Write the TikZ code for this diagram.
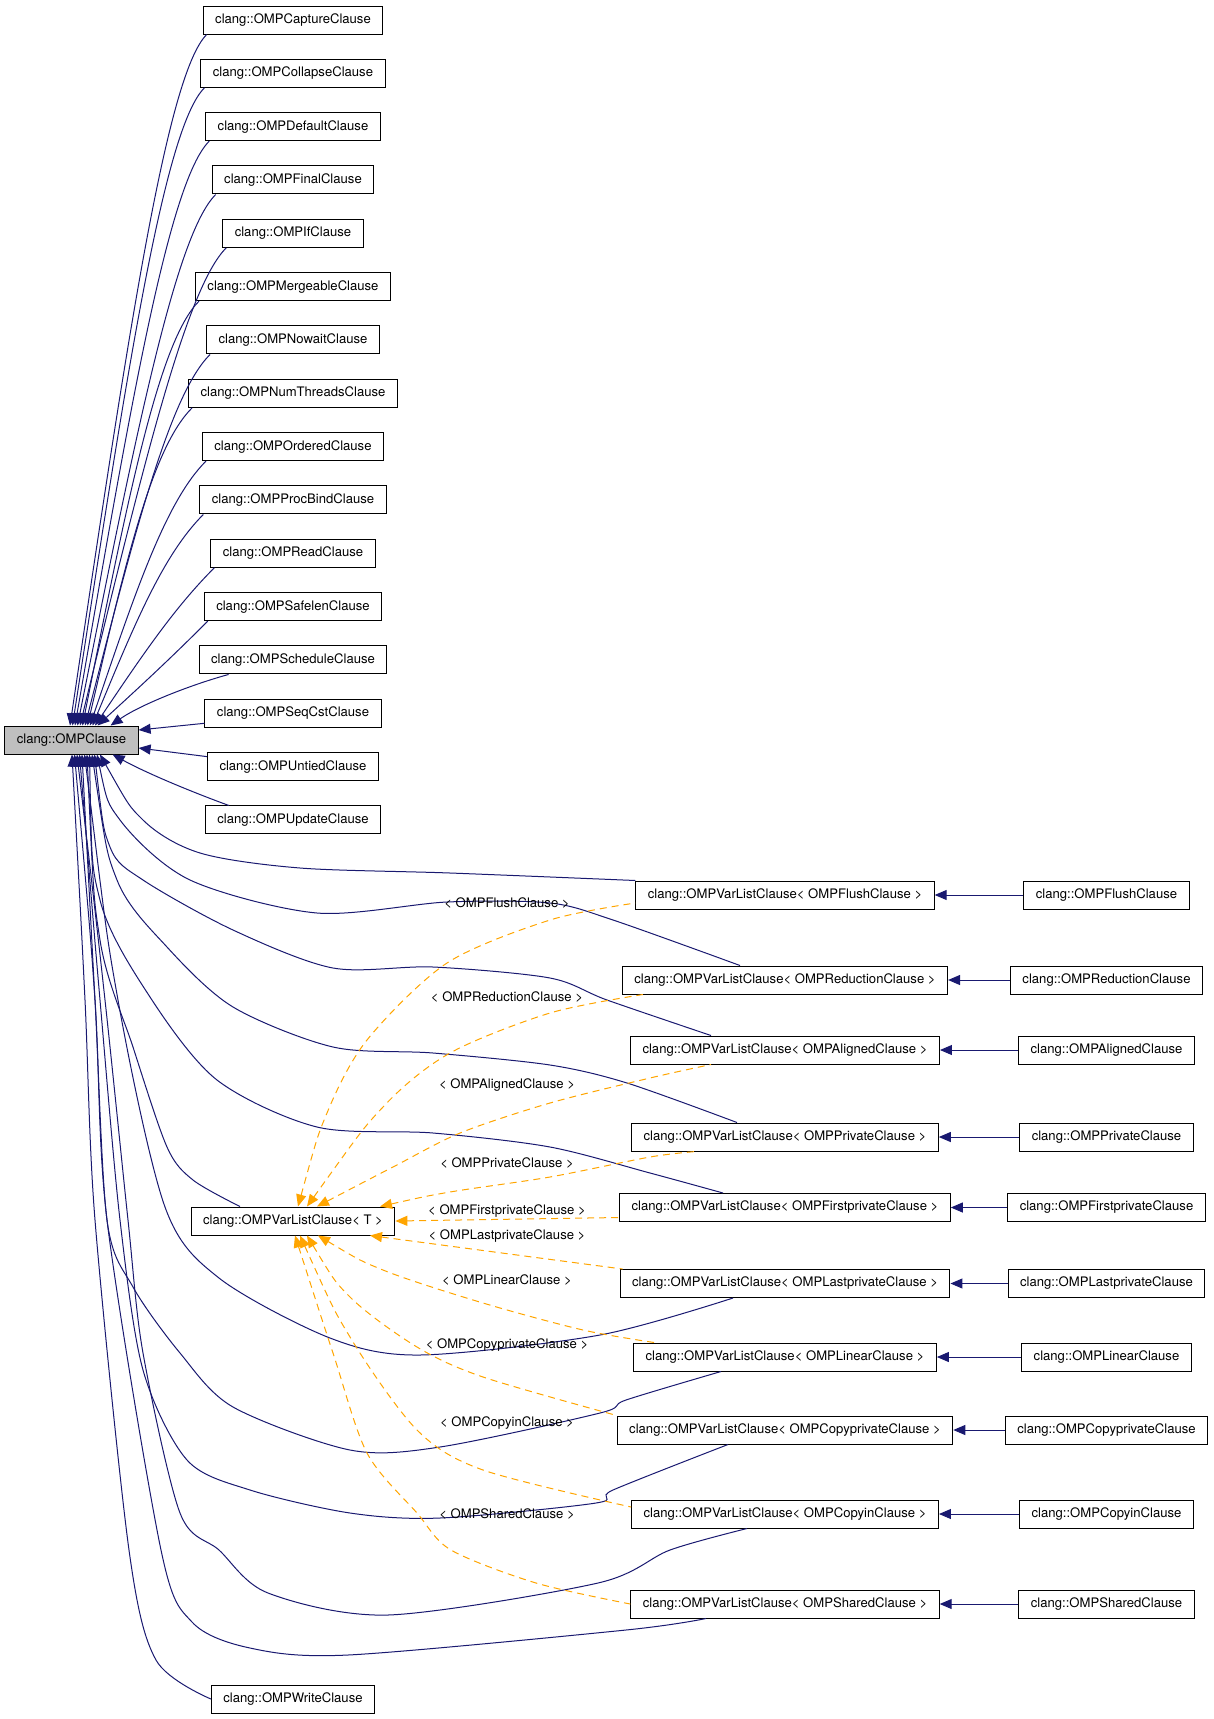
\documentclass[tikz,border=0pt]{standalone}
\usepackage{fontspec}
\setmainfont{TeX Gyre Heros}
\usetikzlibrary{calc,arrows.meta}

\definecolor{inhblue}{HTML}{191970}
\definecolor{tmplorange}{HTML}{FFA500}
\definecolor{basegray}{HTML}{BFBFBF}

\tikzset{
  box/.style={draw=black, line width=1pt, fill=white, inner xsep=12pt, inner ysep=0pt,
    minimum height=28pt, font=\fontsize{13.1}{15}\selectfont},
  inh/.style={draw=inhblue, line width=1pt, >={Triangle[length=12pt,width=10pt]}, <-},
  tmpl/.style={draw=tmplorange, line width=1pt, dash pattern=on 7pt off 5pt,
    >={Triangle[length=12pt,width=10pt]}, <-},
  lbl/.style={inner sep=0pt, font=\fontsize{13.1}{15}\selectfont},
}

\begin{document}
\begin{tikzpicture}[x=1pt,y=-1pt]
\useasboundingbox (0,0) rectangle (1213,1719);

% === Base class ===
\node[box,fill=basegray] (OMPClause) at (71.5,740) {clang::OMPClause};

% === Plain clauses, left column ===
\foreach \nm [count=\i from 0] in {Capture,Collapse,Default,Final,If,Mergeable,Nowait,NumThreads,Ordered,ProcBind,Read,Safelen,Schedule,SeqCst,Untied,Update}
  \node[box] (\nm) at (293,{20+53.33*\i}) {clang::OMP\nm Clause};

\node[box] (vlT) at (293,1221) {clang::OMPVarListClause< T >};
\node[box] (Write) at (293,1699) {clang::OMPWriteClause};

% === Template instances and their clauses ===
\foreach \nm/\y in {Flush/895,Reduction/980,Aligned/1050,Private/1137,Firstprivate/1207.5,Lastprivate/1283.5,Linear/1357,Copyprivate/1430,Copyin/1514,Shared/1604} {
  \node[box] (vl\nm) at (785,\y) {clang::OMPVarListClause< OMP\nm Clause >};
  \node[box] (\nm) at (1106.5,\y) {clang::OMP\nm Clause};
  \draw[inh] (vl\nm) -- (\nm);
}

% === Upper fan into OMPClause ===
\foreach \nm [count=\i from 0] in {Capture,Collapse,Default,Final,If,Mergeable,Nowait,NumThreads,Ordered,ProcBind,Read,Safelen} {
  \coordinate (tip) at ($(OMPClause.north)+({2.5*\i-1.5},0)$);
  \coordinate (att) at ($(\nm.south west)+(4,0)$);
  \coordinate (bend) at ($(att)+(-40,40)$);
  \draw[inh] (tip) .. controls ($(tip)!0.6!(bend)$) and (bend) .. (att);
}
\draw[inh] ($(OMPClause.north east)+(-28,0)$) .. controls (140,705) and (190,685) .. ($(Schedule.south west)+(30,0)$);
\draw[inh] ($(OMPClause.east)+(0,-10)$) -- ($(SeqCst.west)+(0,10)$);
\draw[inh] ($(OMPClause.east)+(0,8)$) -- ($(Untied.west)+(0,-10)$);
\draw[inh] ($(OMPClause.south east)+(-26,0)$) .. controls (150,775) and (200,795) .. ($(Update.north west)+(24,0)$);

% === Lower fan out of OMPClause ===
\foreach \nm/\dx in {Write/0.5,Shared/3,Copyin/5.5,Copyprivate/8,Linear/10.5,Lastprivate/13,T/15.5,Firstprivate/18,Private/20.5,Aligned/23,Reduction/25.5,Flush/28.5}
  \coordinate (b\nm) at ($(OMPClause.south)+(\dx,0)$);

\coordinate (eReduction) at ($(vlReduction.north)+(-45,0)$);
\coordinate (eAligned) at ($(vlAligned.north)+(-74,0)$);
\coordinate (ePrivate) at ($(vlPrivate.north)+(-48,0)$);
\coordinate (eFirstprivate) at ($(vlFirstprivate.north)+(-62,0)$);
\coordinate (eT) at ($(vlT.north)+(-53,0)$);
\coordinate (eLastprivate) at ($(vlLastprivate.south)+(-52,0)$);
\coordinate (eLinear) at ($(vlLinear.south)+(-64,0)$);
\coordinate (eCopyprivate) at ($(vlCopyprivate.south)+(-57,0)$);
\coordinate (eCopyin) at ($(vlCopyin.south)+(-38,0)$);
\coordinate (eShared) at ($(vlShared.south)+(-79,0)$);

\draw[inh] plot[smooth] coordinates {(bFlush) (143,820) (200,853) (300,868) (450,873) (vlFlush.north west)};
\draw[inh] plot[smooth] coordinates {(bReduction) (120,820) (190,880) (317,913) (447,902) (550,903) (613,920) (eReduction)};
\draw[inh] plot[smooth] coordinates {(bAligned) (110,847) (143,880) (233,930) (333,968) (433,967) (550,978) (607,1000) (eAligned)};
\draw[inh] plot[smooth] coordinates {(bPrivate) (117,880) (167,947) (233,1007) (333,1047) (433,1053) (550,1065) (627,1083) (ePrivate)};
\draw[inh] plot[smooth] coordinates {(bFirstprivate) (100,900) (150,997) (217,1080) (317,1127) (433,1133) (550,1147) (650,1173) (eFirstprivate)};
\draw[inh] plot[smooth] coordinates {(bT) (100,940) (133,1047) (167,1147) (193,1180) (eT)};
\draw[inh] plot[smooth] coordinates {(bLastprivate) (118,1000) (165,1207) (219,1278) (330,1338) (420,1355) (600,1335) (eLastprivate)};
\draw[inh] plot[smooth] coordinates {(bLinear) (95,1000) (107,1220) (133,1287) (180,1353) (233,1407) (350,1450) (440,1447) (600,1413) (626,1400) (eLinear)};
\draw[inh] plot[smooth] coordinates {(bCopyprivate) (100,1000) (120,1220) (143,1370) (187,1460) (250,1490) (350,1513) (440,1518) (596,1503) (613,1490) (eCopyprivate)};
\draw[inh] plot[smooth] coordinates {(bCopyin) (105,1000) (128,1220) (143,1353) (180,1513) (219,1550) (268,1593) (388,1615) (598,1583) (670,1550) (eCopyin)};
\draw[inh] plot[smooth] coordinates {(bShared) (95,1000) (107,1220) (161,1550) (192,1622) (250,1648) (348,1655) (626,1630) (eShared)};
\draw[inh] plot[smooth] coordinates {(bWrite) (85,1000) (95,1220) (129,1550) (156,1660) (Write.west)};

% === Template arguments into OMPVarListClause< T > ===
\foreach \nm/\dx in {Flush/5,Reduction/14,Aligned/24,Private/87}
  \coordinate (u\nm) at ($(vlT.north)+(\dx,0)$);
\foreach \nm/\dx in {Shared/2,Copyin/7,Copyprivate/14,Linear/25,Lastprivate/77}
  \coordinate (d\nm) at ($(vlT.south)+(\dx,0)$);

\coordinate (fFlush) at ($(vlFlush.west)+(0,8)$);
\coordinate (fReduction) at ($(vlReduction.south west)+(21,0)$);
\coordinate (fAligned) at ($(vlAligned.south)+(-74,0)$);
\coordinate (fPrivate) at ($(vlPrivate.south)+(-89,0)$);
\coordinate (fLastprivate) at ($(vlLastprivate.north west)+(3,0)$);
\coordinate (fLinear) at ($(vlLinear.north west)+(21,0)$);
\coordinate (fCopyin) at ($(vlCopyin.west)+(0,-7)$);

\draw[tmpl] plot[smooth] coordinates {(uFlush) (327,1113) (367,1040) (447,963) (550,920) (fFlush)};
\draw[tmpl] plot[smooth] coordinates {(uReduction) (383,1107) (450,1053) (550,1013) (fReduction)};
\draw[tmpl] plot[smooth] coordinates {(uAligned) (393,1167) (460,1133) (550,1103) (650,1078) (fAligned)};
\draw[tmpl] plot[smooth] coordinates {(uPrivate) (450,1192) (550,1177) (650,1157) (fPrivate)};
\draw[tmpl] (vlT.east) -- ($(vlFirstprivate.west)+(0,10)$);
\draw[tmpl] (dLastprivate) -- (fLastprivate);
\draw[tmpl] plot[smooth] coordinates {(dLinear) (383,1270) (483,1303) (583,1330) (fLinear)};
\draw[tmpl] plot[smooth] coordinates {(dCopyprivate) (350,1297) (417,1347) (483,1377) (vlCopyprivate.north west)};
\draw[tmpl] plot[smooth] coordinates {(dCopyin) (350,1337) (417,1430) (483,1470) (fCopyin)};
\draw[tmpl] plot[smooth] coordinates {(dShared) (333,1353) (367,1453) (417,1513) (451,1550) (536,1583) (vlShared.west)};

% === Edge labels ===
\foreach \nm/\y in {Flush/903,Reduction/997,Aligned/1085,Private/1163,Firstprivate/1211,Lastprivate/1236,Linear/1280,Copyprivate/1345,Copyin/1423,Shared/1514}
  \node[lbl] (l\nm) at (507,\y) {< OMP\nm Clause >};

\end{tikzpicture}
\end{document}
